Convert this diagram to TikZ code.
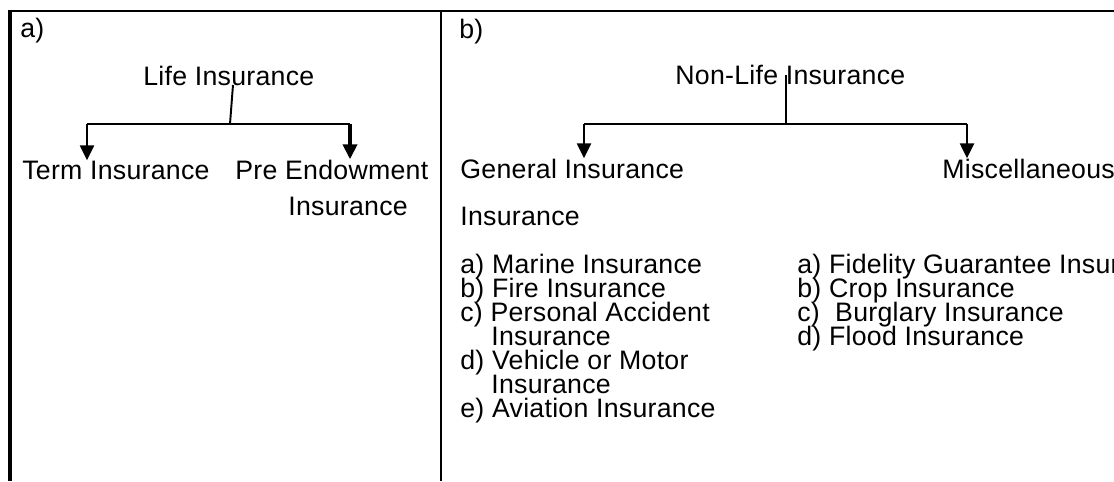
\documentclass[tikz,border=0pt]{standalone}
\usepackage{fontspec}
\setmainfont{Liberation Sans}[LetterSpace=1]
\usetikzlibrary{arrows.meta}
\usetikzlibrary{calc}
\tikzset{
	lbl/.style={inner sep=0pt, anchor=base west},
	branch/.style={line width=1.1pt},
	frameline/.style={line width=1.2pt}
}

\begin{document}
\begin{tikzpicture}[x=0.02cm, y=-0.02cm, >={Triangle[length=3mm,width=2.8mm]}, font=\fontsize{15.2pt}{16pt}\selectfont]

	\useasboundingbox (0,0) rectangle (1114,481);
	\clip (0,0) rectangle (1114,481);
	\fill[white] (0,0) rectangle (1114,481);

	% frame
	\draw[line width=2pt] (10,10) -- (10,481);
	\draw[frameline] (9,11) -- (1114,11);
	\draw[frameline] (441,11) -- (441,481);

	% %%%% a)
	\node[lbl] (A) at (20,37) {a)};
	\node[lbl] (L0) at (143,85) {Life Insurance};
	\node[lbl] (L1) at (22,179) {Term Insurance};
	\node[lbl] (L2) at (235,179) {Pre Endowment};
	\node[lbl] (L3) at (288,215) {Insurance};

	\coordinate (LT) at (233,85);
	\coordinate (LJ) at (230,124);
	\coordinate (LA) at (87,124);
	\coordinate (LB) at (350,124);
	\draw[branch] (LT) -- (LJ);
	\draw[branch] (LA) -- (LB);
	\draw[line width=1.4pt,->] (LA) -- (LA |- L1.north);
	\draw[line width=2.3pt,->] (LB) -- (LB |- L2.north);

	% %%%% b)
	\node[lbl] (B) at (459,38) {b)};
	\node[lbl] (N0) at (675,84) {Non-Life Insurance};
	\node[lbl] (N1) at (460,178) {General Insurance};
	\node[lbl] (N2) at (942,178) {Miscellaneous};
	\node[lbl] (N3) at (460,225) {Insurance};

	\coordinate (NT) at (786,75);
	\coordinate (NJ) at (786,124);
	\coordinate (NA) at (584,124);
	\coordinate (NB) at (967,124);
	\draw[branch] (NT) -- (NJ);
	\draw[branch] (NA) -- (NB);
	\draw[line width=1.4pt,->] (NA) -- (NA |- N1.north);
	\draw[line width=1.4pt,->] (NB) -- (NB |- N2.north);

	\node[lbl] (G1) at (460,273) {a) Marine Insurance};
	\node[lbl] (G2) at (460,297) {b) Fire Insurance};
	\node[lbl] (G3) at (460,321) {c) Personal Accident};
	\node[lbl] (G4) at (491,345) {Insurance};
	\node[lbl] (G5) at (460,369) {d) Vehicle or Motor};
	\node[lbl] (G6) at (491,393) {Insurance};
	\node[lbl] (G7) at (460,417) {e) Aviation Insurance};

	\node[lbl] (M1) at (797,273) {a) Fidelity Guarantee Insurance};
	\node[lbl] (M2) at (797,297) {b) Crop Insurance};
	\node[lbl] (M3) at (797,321) {c)~ Burglary Insurance};
	\node[lbl] (M4) at (797,345) {d) Flood Insurance};

\end{tikzpicture}
\end{document}
